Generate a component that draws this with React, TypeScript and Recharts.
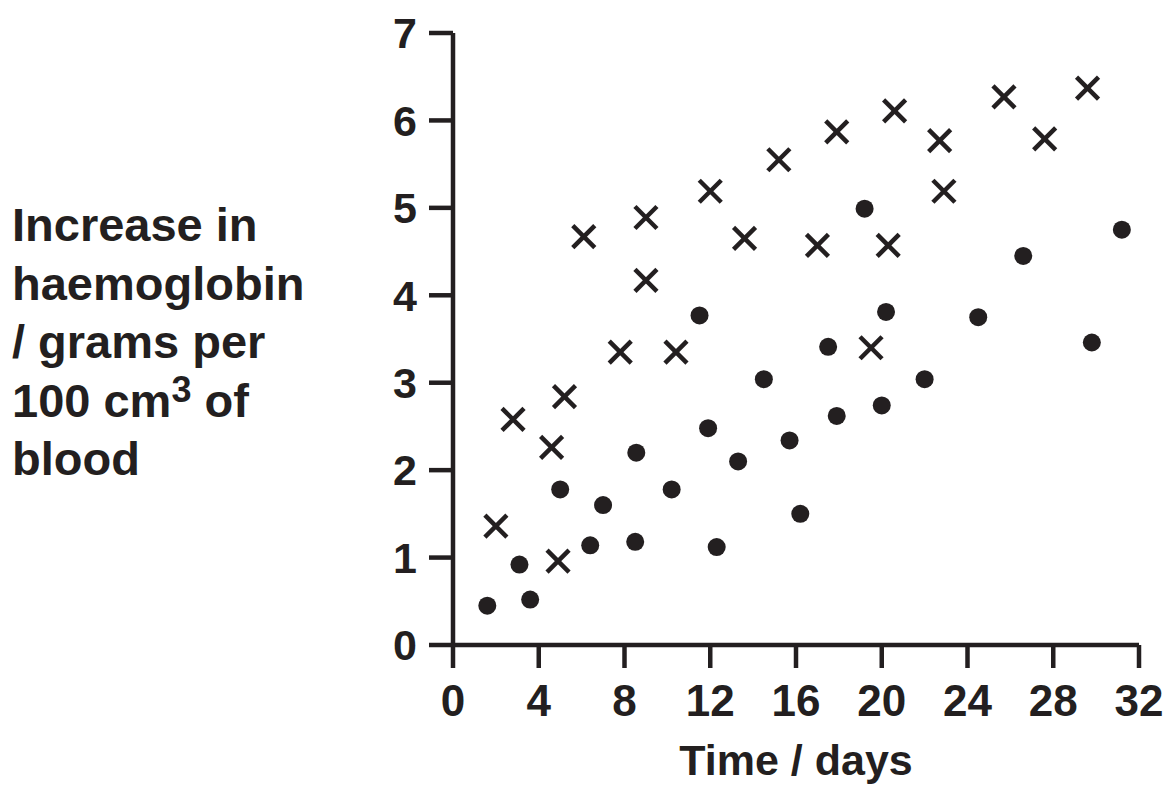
import React from "react";
import { ScatterChart, Scatter, XAxis, YAxis } from "recharts";

const xTicks = [0, 4, 8, 12, 16, 20, 24, 28, 32];
const yTicks = [0, 1, 2, 3, 4, 5, 6, 7];

// crosses
const crossDays = [2.0, 2.8, 4.6, 5.2, 4.9, 6.1, 7.8, 9.0, 9.0, 10.4, 12.0, 13.6, 15.2, 17.0, 17.9, 19.5, 20.3, 20.6, 22.7, 22.9, 25.7, 27.6, 29.6];
const crossValues = [1.36, 2.58, 2.26, 2.84, 0.96, 4.67, 3.35, 4.89, 4.17, 3.35, 5.19, 4.65, 5.55, 4.57, 5.87, 3.4, 4.57, 6.11, 5.77, 5.19, 6.27, 5.79, 6.37];

// dots
const dotDays = [1.6, 3.1, 3.6, 5.0, 6.4, 7.0, 8.5, 8.55, 10.2, 11.5, 11.9, 12.3, 13.3, 14.5, 15.7, 16.2, 17.5, 17.9, 19.2, 20.0, 20.2, 22.0, 24.5, 26.6, 29.8, 31.2];
const dotValues = [0.45, 0.92, 0.52, 1.78, 1.14, 1.6, 1.18, 2.2, 1.78, 3.77, 2.48, 1.12, 2.1, 3.04, 2.34, 1.5, 3.41, 2.62, 4.99, 2.74, 3.81, 3.04, 3.75, 4.45, 3.46, 4.75];

const yLabelLines = ["Increase in", "haemoglobin", "/ grams per", "100 cm|3| of", "blood"];

const crossData = crossDays.map((d, i) => ({ day: d, value: crossValues[i] }));
const dotData = dotDays.map((d, i) => ({ day: d, value: dotValues[i] }));

const INK = "#231f20";
const FONT = "'Liberation Sans', Arial, Helvetica, sans-serif";

const CrossShape = (props: any) => {
  const { cx, cy } = props;
  const h = 11;
  return (
    <g>
      <line x1={cx - h} y1={cy - h} x2={cx + h} y2={cy + h} stroke={INK} strokeWidth={4.5} />
      <line x1={cx - h} y1={cy + h} x2={cx + h} y2={cy - h} stroke={INK} strokeWidth={4.5} />
    </g>
  );
};

const DotShape = (props: any) => {
  const { cx, cy } = props;
  return <circle cx={cx} cy={cy} r={9} fill={INK} />;
};

const YLabel = (props: any) => {
  const vb = props.viewBox || { x: 0 };
  const x0 = (vb.x || 0) + 12;
  return (
    <text fill={INK} fontFamily={FONT} fontWeight="bold" fontSize={47}>
      {yLabelLines.map((line, i) => {
        const y = 241 + 58.5 * i;
        if (line.includes("|")) {
          const [a, sup, b] = line.split("|");
          return (
            <tspan key={i} x={x0} y={y}>
              {a}
              <tspan fontSize={36} dy={-15}>{sup}</tspan>
              <tspan dy={15}>{b}</tspan>
            </tspan>
          );
        }
        return (
          <tspan key={i} x={x0} y={y}>
            {line}
          </tspan>
        );
      })}
    </text>
  );
};

const XLabel = (props: any) => {
  const vb = props.viewBox || { x: 453, y: 645, width: 686 };
  return (
    <text
      x={vb.x + vb.width / 2}
      y={775}
      textAnchor="middle"
      fill={INK}
      fontFamily={FONT}
      fontWeight="bold"
      fontSize={43}
    >
      Time / days
    </text>
  );
};

export default function App() {
  return (
    <div style={{ position: "absolute", left: 0, top: 0, background: "#fff" }}>
      <ScatterChart width={1174} height={789} margin={{ top: 33, right: 35, bottom: 0, left: 0 }}>
        <XAxis
          type="number"
          dataKey="day"
          domain={[0, 32]}
          ticks={xTicks}
          interval={0}
          allowDataOverflow
          height={144}
          stroke={INK}
          strokeWidth={4.5}
          axisLine={{ stroke: INK, strokeWidth: 4.5 }}
          tickLine={{ stroke: INK, strokeWidth: 4.5 }}
          tickSize={23}
          tickMargin={17}
          tick={{ fill: INK, fontFamily: FONT, fontWeight: "bold", fontSize: 44, strokeWidth: 0 }}
          label={{ content: XLabel }}
        />
        <YAxis
          type="number"
          dataKey="value"
          domain={[0, 7]}
          ticks={yTicks}
          interval={0}
          allowDataOverflow
          width={453}
          stroke={INK}
          strokeWidth={4.5}
          axisLine={{ stroke: INK, strokeWidth: 4.5 }}
          tickLine={{ stroke: INK, strokeWidth: 4.5 }}
          tickSize={24}
          tickMargin={12}
          tick={{ fill: INK, fontFamily: FONT, fontWeight: "bold", fontSize: 43, strokeWidth: 0 }}
          label={{ content: YLabel }}
        />
        <Scatter data={crossData} shape={CrossShape} isAnimationActive={false} />
        <Scatter data={dotData} shape={DotShape} isAnimationActive={false} />
      </ScatterChart>
    </div>
  );
}
